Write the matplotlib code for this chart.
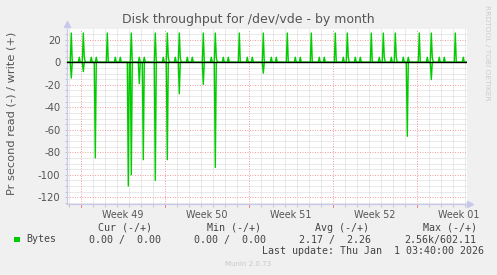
import numpy as np
import matplotlib
matplotlib.use("Agg")
import matplotlib.pyplot as plt
from matplotlib.patches import Rectangle

# ---- data (days relative to Sun 30 Nov 2025 00:00) ----
week_labels = ["Week 49", "Week 50", "Week 51", "Week 52", "Week 01"]
week_label_days = [3.5, 10.5, 17.5, 24.5, 31.5]
week_start_days = [0, 7, 14, 21, 28]

write_peak_days = [-0.783, 0.217, 2.217, 4.217, 6.217, 7.217, 8.217, 10.217, 11.217,
                   13.217, 15.217, 17.217, 19.217, 21.217, 22.217, 24.217, 25.217,
                   26.217, 28.217, 29.217, 31.217]
write_peak_vals = [26, 26, 26, 26, 26, 26, 26, 26, 26, 26, 26, 26, 26, 26, 26, 26, 26,
                   26, 26, 26, 26]
write_bump_days = [-0.116, 0.334, 0.884, 1.334, 2.884, 3.334, 4.884, 5.334, 6.884, 7.334,
                   7.884, 8.334, 8.884, 9.334, 10.884, 11.334, 11.884, 12.334, 13.884,
                   14.334, 15.884, 16.334, 17.884, 18.334, 19.884, 20.334, 21.884, 22.334,
                   22.884, 23.334, 24.884, 25.334, 25.884, 26.334, 26.884, 27.334, 28.884,
                   29.334, 29.884, 30.334, 31.884]
write_bump_vals = [4.5] * len(write_bump_days)

read_days = [-0.783, 0.217, 1.217, 4.0, 4.217, 4.883, 5.217, 6.217, 7.217, 8.217,
             10.217, 11.217, 15.217, 27.217, 29.217]
read_vals = [-14, -8.3, -85, -110, -100, -19, -86.6, -105, -86.6, -28,
             -19.6, -93.5, -9.7, -65.8, -15.4]

y_ticks = [20, 0, -20, -40, -60, -80, -100, -120]

# ---- build sampled series (2 h samples) ----
start_h = -26.8
t_h = np.arange(start_h, 32.2 * 24, 2.0)
t = t_h / 24.0
w = np.zeros_like(t)
r = np.zeros_like(t)

def place(arr, days, vals, fn):
    for d, v in zip(days, vals):
        i = int(round((d * 24 - start_h) / 2.0))
        if 0 <= i < len(arr):
            arr[i] = fn(arr[i], v)

place(w, write_bump_days, write_bump_vals, max)
place(w, write_peak_days, write_peak_vals, max)
place(r, read_days, read_vals, min)

# ---- figure ----
W, H = 497, 275
fig = plt.figure(figsize=(W / 100, H / 100), dpi=100, facecolor="#F0F0F0")
ax = fig.add_axes([66.7 / W, 71 / H, 400 / W, 175 / H], facecolor="white")
xmin, xmax = -1.1667, 32.1667
ymin, ymax = -126, 29.6
ax.set_xlim(xmin, xmax)
ax.set_ylim(ymin, ymax)

# grid
for y in np.arange(-125, 30, 5):
    if y % 20 != 0:
        ax.axhline(y, color="#D6D6D6", lw=0.72, ls=(0, (1, 1)), zorder=1)
for x in range(-1, 33):
    if x not in week_start_days:
        ax.axvline(x, color="#D6D6D6", lw=0.72, ls=(0, (1, 1)), zorder=1)
for y in y_ticks:
    if y != 0:
        ax.axhline(y, color="#F2A0A0", lw=0.72, ls=(0, (1, 1.5)), zorder=1.5)
for x in week_start_days:
    ax.axvline(x, color="#F2A0A0", lw=0.72, ls=(0, (1, 1.5)), zorder=1.5)

# data
ax.plot(t, w, color="#00CC00", lw=1.0, zorder=3)
ax.plot(t, r, color="#00CC00", lw=1.0, zorder=3)
ax.axhline(0, color="black", lw=1.0, zorder=4)

# axes style
for s in ["top", "right"]:
    ax.spines[s].set_visible(False)
for s in ["left", "bottom"]:
    ax.spines[s].set_color("#C8C8EC")
    ax.spines[s].set_linewidth(0.9)
ax.plot([0], [1.03], marker="^", color="#C8C8EC", ms=4, transform=ax.transAxes, clip_on=False)
ax.plot([1.008], [0], marker=">", color="#C8C8EC", ms=4, transform=ax.transAxes, clip_on=False)

ax.set_yticks(y_ticks)
ax.set_yticklabels([str(v) for v in y_ticks])
ax.set_yticks(np.arange(-125, 30, 5), minor=True)
ax.tick_params(axis="y", which="both", length=1.5, width=0.6, color="#BBBBBB",
               labelsize=7.2, labelcolor="#555555", pad=3)
ax.set_xticks(week_label_days)
ax.set_xticklabels(week_labels)
ax.set_xticks(range(-1, 33), minor=True)
ax.tick_params(axis="x", which="major", length=0, labelsize=6.9, labelcolor="#555555", pad=4.5)
ax.tick_params(axis="x", which="minor", length=2, width=0.6, color="#BBBBBB")
xt = ax.get_xaxis_transform()
for x in week_start_days:
    ax.plot([x, x], [0, -0.017], color="#F08080", lw=0.7, transform=xt, clip_on=False)

# texts
def fx(px):
    return px / W

def fy(py):
    return 1 - py / H

fig.text(fx(248), fy(19.3), "Disk throughput for /dev/vde - by month", ha="center",
         va="center", fontsize=9, color="#555555")
fig.text(fx(11.3), fy(113.5), "Pr second read (-) / write (+)", ha="center", va="center",
         rotation=90, fontsize=8.2, color="#555555")
fig.text(fx(487.3), fy(53.3), "RRDTOOL / TOBI OETIKER", ha="center", va="center",
         rotation=270, fontsize=5.4, color="#CCCCCC")
fig.text(fx(248), fy(264.5), "Munin 2.0.73", ha="center", va="center", fontsize=5.0,
         color="#C8C8C8")

mono = dict(family="DejaVu Sans Mono", fontsize=7.2, color="#444444", va="center", ha="left")
fig.patches.append(Rectangle((fx(14), fy(242.3)), 6 / W, 5.6 / H, transform=fig.transFigure,
                             facecolor="#00CC00", edgecolor="none"))
fig.text(fx(26.7), fy(239.5), "Bytes", **mono)
for x, s in [(98.3, "Cur (-/+)"), (206.7, "Min (-/+)"), (315, "Avg (-/+)"), (422.7, "Max (-/+)")]:
    fig.text(fx(x), fy(227.7), s, **mono)
for x, s in [(89.3, "0.00 /  0.00"), (194.3, "0.00 /  0.00"), (299.3, "2.17 /  2.26"),
             (404.3, "2.56k/602.11")]:
    fig.text(fx(x), fy(239.5), s, **mono)
fig.text(fx(261.5), fy(251.5), "Last update: Thu Jan  1 03:40:00 2026", **mono)

fig.savefig("out.png", dpi=100, facecolor=fig.get_facecolor())
